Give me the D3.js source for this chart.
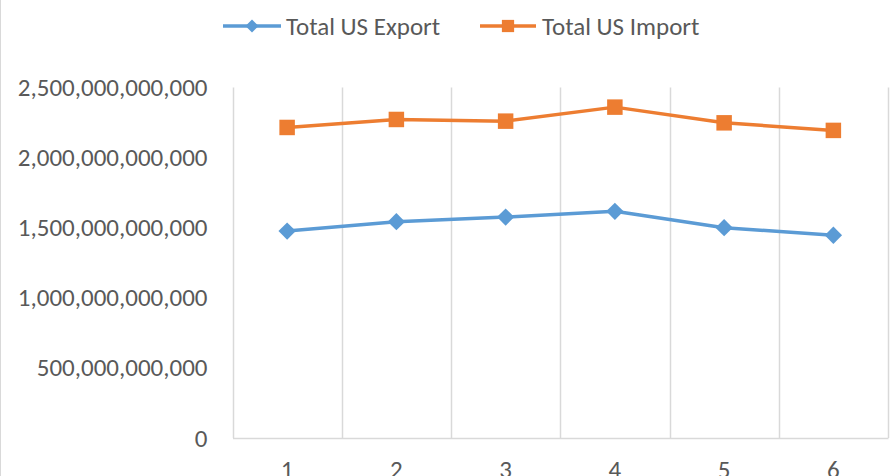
<!DOCTYPE html>
<html>
<head>
<meta charset="utf-8">
<script src="https://cdn.jsdelivr.net/npm/d3@7"></script>
<style>
  html, body { margin: 0; padding: 0; background: #fff; }
  svg { display: block; }
  svg text { font-family: Carlito, "Liberation Sans", Arial, sans-serif; }
</style>
</head>
<body>
<div id="chart"></div>
<script>
const periods = [1, 2, 3, 4, 5, 6]
const exportValues = [1.476e12, 1.543e12, 1.576e12, 1.617e12, 1.500e12, 1.446e12]
const importValues = [2.215e12, 2.272e12, 2.260e12, 2.360e12, 2.248e12, 2.194e12]
const yTicks = [0, 5e11, 1e12, 1.5e12, 2e12, 2.5e12]
const seriesNames = ['Total US Export', 'Total US Import']

const width = 894
const height = 476
const margin = { top: 87.5, right: 6, bottom: 38, left: 232.5 }
const textColor = '#595959'
const gridColor = '#d9d9d9'
const colors = ['#5b9bd5', '#ed7d31']
const fontSize = '25px'

const svg = d3.select('#chart')
  .append('svg')
  .attr('width', width)
  .attr('height', height)

// chart border on the left edge
svg.append('line')
  .attr('x1', 0.5).attr('x2', 0.5)
  .attr('y1', 0).attr('y2', height)
  .attr('stroke', gridColor)

const x = d3.scaleBand()
  .domain(periods)
  .range([margin.left, width - margin.right])

const y = d3.scaleLinear()
  .domain([0, 2.5e12])
  .range([height - margin.bottom, margin.top])

// vertical gridlines between categories
const edges = periods.map(p => x(p)).concat([x(periods[periods.length - 1]) + x.bandwidth()])
svg.append('g')
  .selectAll('line')
  .data(edges)
  .enter()
  .append('line')
    .attr('x1', d => Math.round(d) + 0.5)
    .attr('x2', d => Math.round(d) + 0.5)
    .attr('y1', margin.top)
    .attr('y2', height - margin.bottom)
    .attr('stroke', gridColor)
    .attr('stroke-width', 1.5)

// x axis line + labels
const xAxis = svg.append('g')
  .attr('transform', 'translate(0,' + (height - margin.bottom) + ')')
  .call(d3.axisBottom(x).tickSize(0).tickPadding(0))
xAxis.attr('font-family', null).attr('font-size', null)
xAxis.select('.domain').attr('stroke', gridColor).attr('stroke-width', 1.5)
xAxis.selectAll('text')
  .attr('y', 40)
  .attr('dy', 0)
  .attr('fill', textColor)
  .style('font-size', fontSize)

// y axis labels
const yAxis = svg.append('g')
  .attr('transform', 'translate(' + margin.left + ',0)')
  .call(d3.axisLeft(y).tickValues(yTicks).tickSize(0).tickPadding(25)
    .tickFormat(d3.format(',.0f')))
yAxis.attr('font-family', null).attr('font-size', null)
yAxis.select('.domain').remove()
yAxis.selectAll('text')
  .attr('fill', textColor)
  .style('font-size', fontSize)

const line = d3.line()
  .x((d, i) => x(periods[i]) + x.bandwidth() / 2)
  .y(d => y(d))

const series = [exportValues, importValues]

series.forEach((vals, s) => {
  svg.append('path')
    .datum(vals)
    .attr('d', line)
    .attr('fill', 'none')
    .attr('stroke', colors[s])
    .attr('stroke-width', 3.5)
    .attr('stroke-linejoin', 'round')

  svg.append('g')
    .selectAll('path')
    .data(vals)
    .enter()
    .append('path')
      .attr('d', d3.symbol().type(d3.symbolSquare).size(s === 0 ? 150 : 240))
      .attr('transform', (d, i) => 'translate(' + (x(periods[i]) + x.bandwidth() / 2) + ',' + y(d) + ')' + (s === 0 ? ' rotate(45)' : ''))
      .attr('fill', colors[s])
})

// legend
const legend = svg.append('g')
const legendItems = [
  { name: seriesNames[0], x0: 223, x1: 281, tx: 286 },
  { name: seriesNames[1], x0: 480, x1: 536, tx: 542 }
]
legendItems.forEach((item, s) => {
  const ly = 26
  legend.append('line')
    .attr('x1', item.x0).attr('x2', item.x1)
    .attr('y1', ly).attr('y2', ly)
    .attr('stroke', colors[s])
    .attr('stroke-width', 3.5)
  const cx = (item.x0 + item.x1) / 2
  legend.append('path')
    .attr('d', d3.symbol().type(d3.symbolSquare).size(s === 0 ? 85 : 150))
    .attr('transform', 'translate(' + cx + ',' + ly + ')' + (s === 0 ? ' rotate(45)' : ''))
    .attr('fill', colors[s])
  legend.append('text')
    .attr('x', item.tx)
    .attr('y', ly)
    .attr('dy', '0.35em')
    .attr('fill', textColor)
    .style('font-size', fontSize)
    .text(item.name)
})
</script>
</body>
</html>
